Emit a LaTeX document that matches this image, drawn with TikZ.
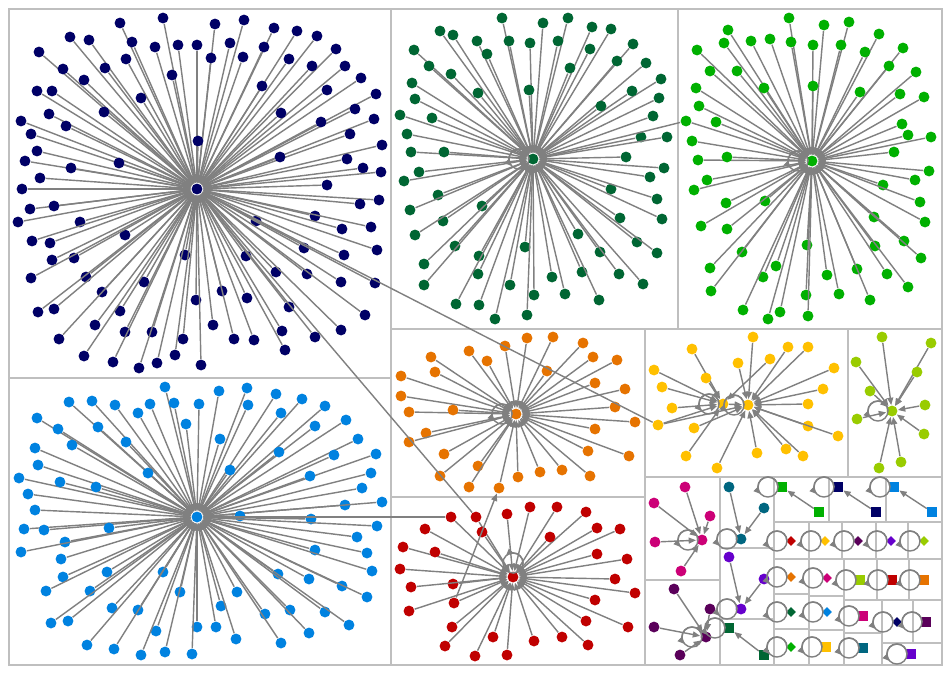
\documentclass[tikz,border=0pt]{standalone}
\usetikzlibrary{arrows.meta,shapes.geometric}

\definecolor{navy}{RGB}{0,0,102}
\definecolor{dkgreen}{RGB}{0,102,51}
\definecolor{lgreen}{RGB}{0,176,0}
\definecolor{sky}{RGB}{0,130,224}
\definecolor{orng}{RGB}{230,115,0}
\definecolor{crimson}{RGB}{192,0,0}
\definecolor{gold}{RGB}{255,192,0}
\definecolor{lime}{RGB}{153,204,0}
\definecolor{magen}{RGB}{204,0,119}
\definecolor{tealx}{RGB}{0,102,128}
\definecolor{vio}{RGB}{102,0,204}
\definecolor{plum}{RGB}{90,0,90}
\definecolor{edgegray}{RGB}{128,128,128}
\definecolor{framegray}{RGB}{191,191,191}

\tikzset{
  dot/.style={circle,fill=#1,inner sep=0pt,minimum size=6.2pt},
  sq/.style={rectangle,fill=#1,inner sep=0pt,minimum size=5.4pt},
  dm/.style={diamond,fill=#1,inner sep=0pt,minimum size=5.8pt},
  edge/.style={draw=edgegray,line width=0.8pt,-{Triangle[length=4.2pt,width=3.4pt]}},
  frame/.style={draw=framegray,line width=0.6pt}
}

\newcommand\selfloop[2][180]{%
  \pgfmathsetmacro\loopstart{#1+180}
  \draw[edge,-] (#2.center) ++(#1:2.3pt) arc[start angle=\loopstart,delta angle=360,radius=5.7pt];
  \draw[edge] (#2.center) ++(#1:2.3pt) arc[start angle=\loopstart,delta angle=225,radius=5.7pt];}

\newcommand\drawstar[3]{%
  \foreach \x/\y [count=\i] in {#3} {
    \node[dot=#2] (#1\i) at (\x,\y) {};
    \draw[edge] (#1\i) -- (#1);
  }}

\begin{document}
\begin{tikzpicture}[x=0.02cm,y=-0.02cm,semithick]
  \useasboundingbox (0,0) rectangle (950,674);
  \fill[white] (0,0) rectangle (950,674);

  \foreach \a/\b/\c/\d in {9/9/391/378, 391/9/678/329, 678/9/942/329, 9/378/391/665,
      391/329/645/497, 391/497/645/665, 645/329/848/477, 848/329/942/477,
      645/477/720/580, 645/580/720/665, 720/477/774/548, 720/548/774/619, 720/619/774/665,
      774/477/829/522, 829/477/886/522, 886/477/942/522,
      774/522/809/559, 809/522/842/559, 842/522/876/559, 876/522/908/559, 908/522/942/559,
      774/559/809/594, 809/559/844/596, 844/559/877/600, 877/559/909/600, 909/559/942/600,
      774/594/809/629, 809/596/844/630, 844/600/882/633, 882/600/913/643, 913/600/942/643,
      774/629/809/665, 809/630/844/665, 844/633/882/665, 882/643/942/665}
    \draw[frame] (\a,\b) rectangle (\c,\d);

  % hubs
  \node[dot=navy] (A) at (197,189) {};
  \node[dot=dkgreen] (B) at (533,159) {};
  \node[dot=lgreen] (C) at (812,161) {};
  \node[dot=sky] (D) at (197,517) {};
  \node[dot=orng] (E) at (516,414) {};
  \node[dot=crimson] (F) at (513,577) {};
  \node[dot=gold] (G) at (723,404) {};
  \node[dot=gold] (H) at (748,405) {};
  \node[dot=lime] (K) at (892,411) {};
  \node[dot=magen] (M) at (702,540) {};
  \node[dot=tealx] (T) at (741,539) {};
  \node[dot=vio] (V) at (741,609) {};
  \node[dot=plum] (P) at (706,637) {};

  \drawstar{A}{navy}{120/23, 163/18, 215/24, 244/20, 274/28, 297/31, 317/36, 336/49, 345/66,
    361/78, 376/94, 355/109, 374/119, 350/134, 382/145, 347/159, 363/168, 381/172, 327/185,
    70/37, 89/40, 132/42, 155/47, 178/45, 197/45, 230/43, 264/47, 39/52, 126/59, 211/58,
    243/57, 289/59, 312/66, 63/69, 105/68, 84/80, 172/75, 37/91, 52/91, 141/98, 262/86,
    327/90, 49/114, 104/112, 281/113, 321/122, 21/121, 66/126, 31/134, 198/141, 37/151,
    280/157, 25/161, 71/168, 119/163, 40/178, 22/189, 379/200, 360/204, 30/209, 54/206,
    18/222, 80/222, 315/216, 342/229, 371/227, 256/221, 125/235, 32/241, 50/243, 377/250,
    304/248, 344/255, 185/255, 246/256, 52/260, 74/258, 31/278, 86/277, 276/272, 307/274,
    341/282, 375/283, 144/282, 102/292, 222/291, 196/300, 247/298, 38/312, 54/309, 120/311,
    289/307, 365/315, 95/325, 213/325, 341/330, 282/331, 125/332, 152/332, 59/339, 183/339,
    234/339, 254/340, 315/337, 285/350, 84/356, 113/362, 139/368, 157/363, 175/355, 201/365}

  \drawstar{B}{dkgreen}{502/18, 543/23, 568/18, 592/27, 611/29, 440/31, 453/35, 477/41,
    509/41, 530/43, 558/41, 590/49, 633/44, 414/50, 487/54, 429/66, 570/68, 617/61, 646/63,
    451/74, 661/79, 412/83, 529/90, 478/93, 632/91, 659/98, 415/99, 601/106, 400/115,
    432/118, 653/116, 407/134, 641/137, 667/137, 411/152, 444/152, 626/157, 664/168,
    419/172, 650/177, 404/181, 438/195, 611/189, 657/199, 410/210, 482/206, 662/219,
    443/221, 620/218, 415/235, 578/234, 455/246, 525/247, 637/242, 600/252, 657/253,
    424/264, 479/256, 478/274, 582/272, 619/274, 424/285, 510/285, 552/277, 643/284,
    534/295, 565/294, 599/300, 456/304, 479/305, 495/319, 527/315}

  \drawstar{C}{lgreen}{686/121, 789/18, 824/25, 849/22, 728/30, 879/34, 724/43, 751/41,
    770/39, 791/42, 813/45, 841/45, 903/48, 697/50, 865/52, 889/66, 710/71, 737/71, 916/72,
    696/88, 764/88, 813/86, 860/92, 900/94, 924/97, 699/106, 716/122, 902/124, 908/135,
    931/137, 692/141, 894/152, 698/160, 727/157, 929/171, 915/180, 707/180, 883/185,
    694/190, 726/203, 765/201, 920/202, 874/217, 925/222, 701/226, 727/229, 904/241,
    807/245, 742/252, 921/258, 875/246, 710/268, 776/266, 763/277, 857/269, 827/275,
    887/274, 711/291, 839/294, 806/295, 908/287, 870/300, 743/310, 780/312, 768/319, 808/316}

  \drawstar{D}{sky}{165/387, 219/391, 247/388, 69/402, 92/401, 115/405, 150/404, 174/403,
    199/404, 276/394, 302/399, 248/405, 138/413, 281/413, 325/406, 37/418, 186/424, 58/429,
    98/427, 315/426, 346/420, 220/439, 35/448, 72/445, 126/442, 358/439, 279/452, 334/455,
    376/454, 38/465, 230/470, 148/473, 310/476, 371/473, 19/478, 60/482, 96/487, 362/488,
    28/494, 35/510, 345/505, 382/502, 240/516, 311/519, 377/526, 24/529, 44/530, 109/528,
    357/537, 65/542, 21/552, 61/559, 315/550, 367/553, 107/572, 163/572, 372/571, 63/577,
    278/574, 309/579, 46/591, 90/591, 180/592, 237/592, 342/586, 367/597, 112/608, 221/606,
    138/610, 265/614, 290/610, 325/612, 51/623, 68/621, 349/625, 156/631, 197/627, 216/627,
    309/633, 236/639, 281/643, 87/645, 114/649, 141/655, 165/652, 192/654}

  \drawstar{E}{orng}{499/488, 527/338, 553/337, 583/343, 505/346, 469/351, 431/357, 593/357,
    617/360, 487/361, 547/371, 401/376, 435/372, 595/383, 625/389, 401/396, 409/412,
    453/410, 615/407, 635/422, 595/429, 426/433, 409/442, 444/454, 588/451, 629/456,
    478/466, 440/476, 518/477, 540/472, 562/470, 590/476, 469/487}

  \drawstar{F}{crimson}{451/517, 476/517, 454/603, 530/507, 557/507, 586/512, 507/514,
    425/529, 482/532, 597/528, 620/529, 550/537, 403/547, 435/552, 597/554, 627/559,
    400/569, 453/584, 411/587, 615/579, 635/593, 595/600, 409/611, 586/621, 628/627,
    452/627, 493/637, 534/641, 562/637, 588/645, 445/646, 475/656, 507/655}

  \drawstar{G}{gold}{658/425, 692/349, 770/359, 654/370, 706/378, 662/387, 672/408, 686/456}
  \drawstar{H}{gold}{753/337, 788/347, 808/347, 738/363, 834/368, 823/389, 808/404, 694/428,
    808/426, 838/436, 757/453, 786/449, 803/456, 717/468}
  \drawstar{K}{lime}{882/337, 931/343, 856/362, 917/372, 870/391, 925/405, 857/419,
    924/434, 879/468, 901/462}
  \drawstar{M}{magen}{685/487, 654/503, 710/516, 655/542, 681/571}
  \drawstar{T}{tealx}{729/487, 764/508}
  \drawstar{V}{vio}{729/557, 764/579}
  \drawstar{P}{plum}{674/589, 710/609, 654/627, 680/655}

  % links between groups
  \draw[edge] (G) -- (H);
  \draw[edge] (G1) -- (H);
  \draw[edge] (G1) -- (A);
  \draw[edge] (F2) -- (A);
  \draw[edge] (F1) -- (D);
  \draw[edge] (F3) -- (E1);
  \draw[edge] (C1) -- (B);

  \selfloop{B} \selfloop{C} \selfloop{E} \selfloop[90]{F}
  \selfloop{G} \selfloop{H} \selfloop{K}
  \selfloop{M} \selfloop{T} \selfloop{V} \selfloop{P}

  % pairs of squares
  \foreach \c/\x/\y/\u/\v [count=\i] in {lgreen/782/487/819/512, navy/838/487/876/512,
      sky/894/487/932/512, dkgreen/729/628/764/655} {
    \node[sq=\c] (S\i) at (\x,\y) {};
    \node[sq=\c] (S\i b) at (\u,\v) {};
    \draw[edge] (S\i b) -- (S\i);
    \selfloop{S\i}
  }

  % single diamonds and squares
  \foreach \c/\x/\y [count=\i] in {crimson/791/541, gold/825/541, plum/858/541, vio/891/541,
      lime/924/541, orng/791/577, magen/827/578, dkgreen/791/612, sky/827/612,
      navy/897/622, lgreen/791/647} {
    \node[dm=\c] (Q\i) at (\x,\y) {};
    \selfloop{Q\i}
  }
  \foreach \c/\x/\y [count=\i] in {lime/860/580, crimson/892/580, orng/924/580,
      magen/863/616, plum/926/622, gold/826/647, tealx/863/648, vio/911/654} {
    \node[sq=\c] (R\i) at (\x,\y) {};
    \selfloop{R\i}
  }
\end{tikzpicture}
\end{document}
